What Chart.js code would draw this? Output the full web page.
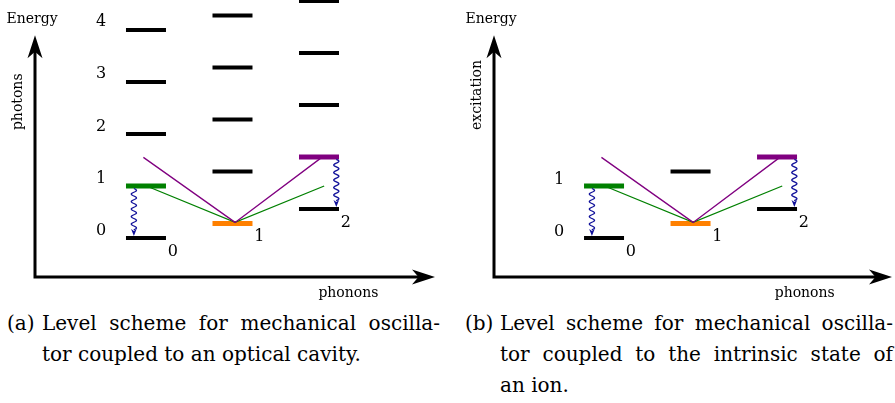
<!DOCTYPE html>
<html>
<head>
<meta charset="utf-8">
<script src="https://cdn.jsdelivr.net/npm/chart.js@4"></script>
<style>
  body { margin: 0; background: #fff; width: 895px; height: 403px; position: relative; overflow: hidden; font-family: 'DejaVu Serif', serif; }
  canvas { position: absolute; top: 0; }
  #cavity-chart { left: 0; }
  #ion-chart { left: 455px; }
  .cap { position: absolute; font-size: 20px; line-height: 31px; color: #000; }
  .cap div { white-space: nowrap; }
  .cap .full { text-align: justify; text-align-last: justify; }
</style>
</head>
<body>
<canvas id="cavity-chart" width="445" height="300"></canvas>
<canvas id="ion-chart" width="440" height="300"></canvas>

<div class="cap" style="left:7px; top:308px;">(a)</div>
<div class="cap" style="left:42px; top:308px; width:398px;">
  <div class="full">Level scheme for mechanical oscilla-</div>
  <div>tor coupled to an optical cavity.</div>
</div>

<div class="cap" style="left:465px; top:308px;">(b)</div>
<div class="cap" style="left:500px; top:308px; width:393px;">
  <div class="full">Level scheme for mechanical oscilla-</div>
  <div class="full">tor coupled to the intrinsic state of</div>
  <div>an ion.</div>
</div>

<script>
// phonon number of each column
const phonons = [0, 1, 2];

// level energies per phonon column (photon units)
const cavityLevels = [
  [0, 1, 2, 3, 4],
  [0.28, 1.28, 2.28, 3.28, 4.28],
  [0.56, 1.56, 2.56, 3.56, 4.56]
];
const ionLevels = [
  [0, 1],
  [0.28, 1.28],
  [0.56, 1.56]
];

// labels on the left of column 0
const cavityTickLabels = ['0', '1', '2', '3', '4'];
const cavityTickY = [0.16, 1.17, 2.17, 3.19, 4.19];
const ionTickLabels = ['0', '1'];
const ionTickY = [0.15, 1.15];

// sideband transitions
const blueSideband = [{ x: -0.03, y: 1.55 }, { x: 1.03, y: 0.3 }, { x: 2.04, y: 1.56 }];
const redSideband = [{ x: 0.02, y: 0.99 }, { x: 1.03, y: 0.3 }, { x: 2.06, y: 1.0 }];

// decay arrows: x position, from energy, to energy
const decays = [
  { x: -0.14, from: 1, to: 0 },
  { x: 2.2, from: 1.56, to: 0.56 }
];

// which level is coloured in each column
const highlight = [
  { level: 1, color: '#008000' },
  { level: 0, color: '#ff8000' },
  { level: 1, color: '#800080' }
];

function levelDatasets(levels) {
  return levels.map((col, c) => ({
    data: col.map(e => ({ x: phonons[c], y: e })),
    pointStyle: 'line',
    pointRadius: 20,
    pointHoverRadius: 20,
    pointBorderWidth: col.map((e, i) => i === highlight[c].level ? 5 : 4),
    pointBorderColor: col.map((e, i) => i === highlight[c].level ? highlight[c].color : '#000'),
    pointBackgroundColor: 'rgba(0,0,0,0)',
    showLine: false,
    clip: false
  }));
}

function sidebandDataset(points, color) {
  return {
    data: points,
    showLine: true,
    borderColor: color,
    borderWidth: 1.3,
    pointRadius: 0,
    pointHoverRadius: 0,
    clip: false
  };
}

function arrowHead(ctx, tx, ty, dx, dy, len, wid) {
  const px = -dy, py = dx;
  ctx.beginPath();
  ctx.moveTo(tx, ty);
  ctx.lineTo(tx - dx * len + px * wid / 2, ty - dy * len + py * wid / 2);
  ctx.lineTo(tx - dx * len * 0.72, ty - dy * len * 0.72);
  ctx.lineTo(tx - dx * len - px * wid / 2, ty - dy * len - py * wid / 2);
  ctx.closePath();
  ctx.fill();
}

function squiggle(ctx, x, y0, y1) {
  const head = 7;
  const end = y1 - head + 1;
  ctx.beginPath();
  ctx.moveTo(x, y0);
  for (let yy = y0; yy <= end; yy += 0.5) {
    ctx.lineTo(x + 2.6 * Math.sin((yy - y0) / 7.5 * 2 * Math.PI), yy);
  }
  ctx.lineTo(x, end);
  ctx.stroke();
  ctx.beginPath();
  ctx.moveTo(x, y1);
  ctx.lineTo(x - 2.8, y1 - head);
  ctx.lineTo(x, y1 - head + 2);
  ctx.lineTo(x + 2.8, y1 - head);
  ctx.closePath();
  ctx.fill();
}

const schemePlugin = {
  id: 'scheme',
  afterDatasetsDraw(chart, args, o) {
    const { ctx, chartArea: a } = chart;
    const x = chart.scales.x, y = chart.scales.y;
    ctx.save();

    // axes
    const top = y.getPixelForValue(o.axisTop);
    ctx.strokeStyle = '#000';
    ctx.fillStyle = '#000';
    ctx.lineWidth = 3;
    ctx.lineJoin = 'miter';
    ctx.beginPath();
    ctx.moveTo(a.left, top + 12);
    ctx.lineTo(a.left, a.bottom);
    ctx.lineTo(a.right - 12, a.bottom);
    ctx.stroke();
    arrowHead(ctx, a.left, top, 0, -1, 23, 15);
    arrowHead(ctx, a.right, a.bottom, 1, 0, 23, 15);

    // axis titles
    ctx.font = '14px "DejaVu Serif"';
    ctx.textAlign = 'center';
    ctx.textBaseline = 'alphabetic';
    ctx.fillText('Energy', a.left - 3, 23);
    ctx.fillText('phonons', x.getPixelForValue(o.xTitleX), a.bottom + 20);
    ctx.save();
    ctx.translate(a.left - 17, y.getPixelForValue(o.yTitleY));
    ctx.rotate(-Math.PI / 2);
    ctx.textBaseline = 'middle';
    ctx.fillText(o.yTitle, 0, 0);
    ctx.restore();

    // photon / excitation numbers
    ctx.font = '16px "DejaVu Serif"';
    o.tickLabels.forEach((t, i) => {
      ctx.fillText(t, x.getPixelForValue(-0.52), y.getPixelForValue(o.tickY[i]) + 5.8);
    });
    // phonon numbers under each column
    o.levels.forEach((col, c) => {
      ctx.fillText(String(phonons[c]), x.getPixelForValue(phonons[c] + 0.31), y.getPixelForValue(col[0] - 0.23) + 5.8);
    });

    // decay arrows
    ctx.strokeStyle = '#10109a';
    ctx.fillStyle = '#10109a';
    ctx.lineWidth = 1.3;
    decays.forEach(d => {
      squiggle(ctx, x.getPixelForValue(d.x), y.getPixelForValue(d.from) + 2.5, y.getPixelForValue(d.to) - 2);
    });
    ctx.restore();
  }
};

function drawScheme(canvas, levels, xRange, padding, extra) {
  return new Chart(canvas, {
    type: 'scatter',
    data: {
      datasets: [
        sidebandDataset(blueSideband, '#800080'),
        sidebandDataset(redSideband, '#008000'),
        ...levelDatasets(levels)
      ]
    },
    options: {
      responsive: false,
      animation: false,
      events: [],
      layout: { padding: padding, autoPadding: false },
      plugins: {
        legend: { display: false },
        tooltip: { enabled: false },
        scheme: Object.assign({ levels: levels, axisTop: 3.9 }, extra)
      },
      scales: {
        x: { type: 'linear', display: false, min: xRange[0], max: xRange[1] },
        y: { type: 'linear', display: false, min: -0.75, max: 4.577 }
      }
    },
    plugins: [schemePlugin]
  });
}

const charts = [];
charts.push(drawScheme(document.querySelector('#cavity-chart'), cavityLevels,
  [-1.283, 3.341], { left: 35, right: 10, top: 0, bottom: 23 },
  { yTitle: 'photons', yTitleY: 2.62, xTitleX: 2.34, tickLabels: cavityTickLabels, tickY: cavityTickY }));
charts.push(drawScheme(document.querySelector('#ion-chart'), ionLevels,
  [-1.272, 3.329], { left: 39, right: 3, top: 0, bottom: 23 },
  { yTitle: 'excitation', yTitleY: 2.75, xTitleX: 2.32, tickLabels: ionTickLabels, tickY: ionTickY }));
</script>
</body>
</html>
